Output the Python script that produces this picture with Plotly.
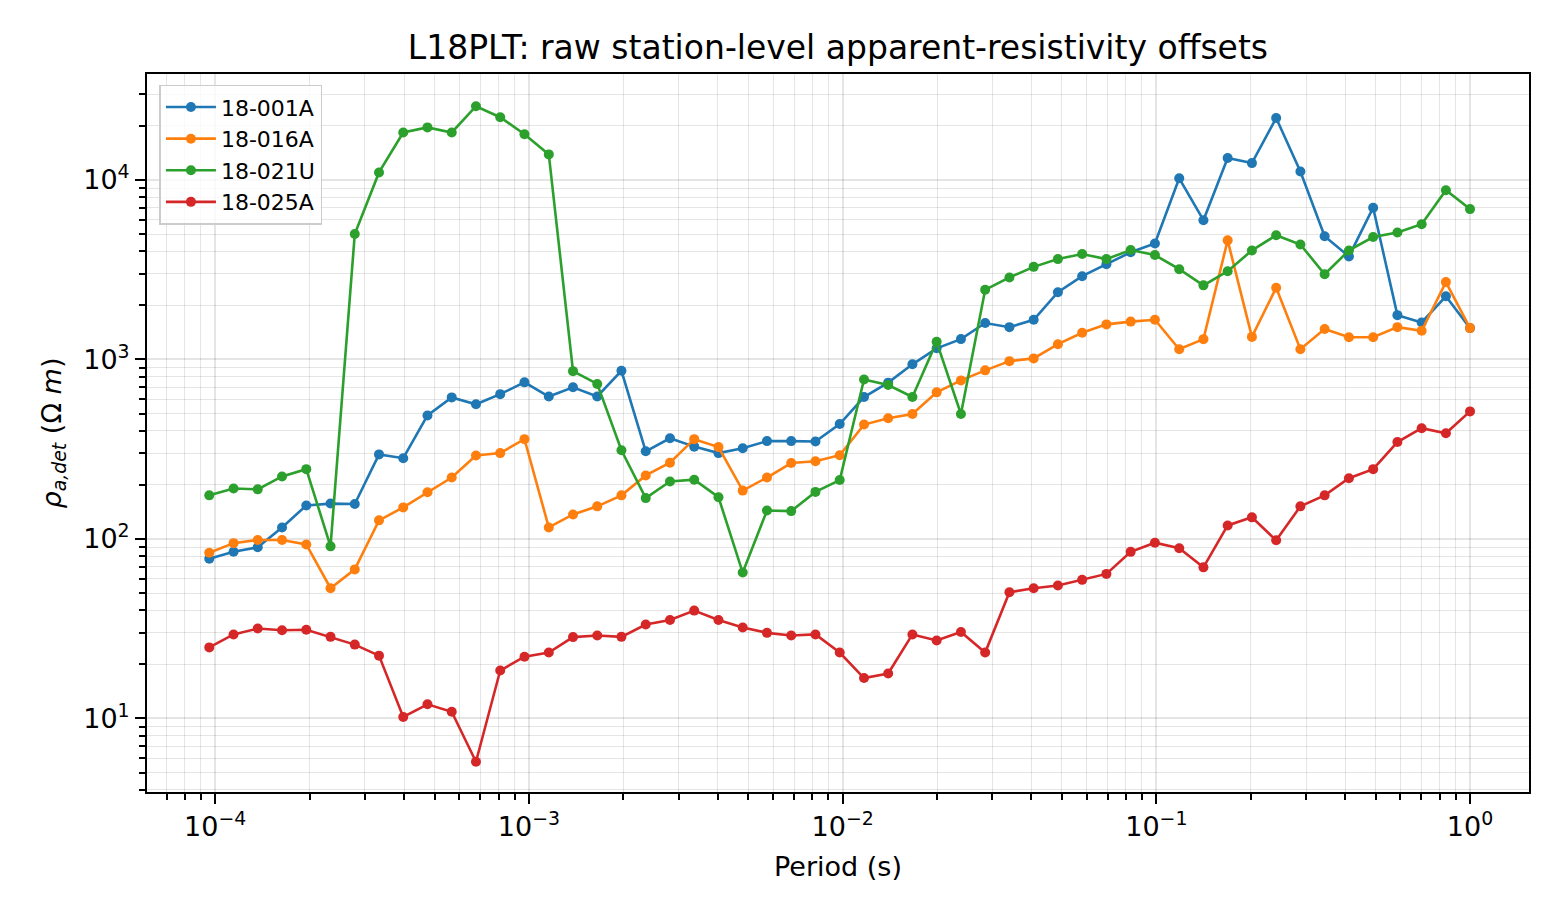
import plotly.graph_objects as go

# periods (s)
period = [9.572e-5, 1.144e-4, 1.366e-4, 1.633e-4, 1.951e-4, 2.331e-4, 2.785e-4,
          3.327e-4, 3.975e-4, 4.749e-4, 5.674e-4, 6.779e-4, 8.100e-4,
          9.678e-4, 1.157e-3, 1.382e-3, 1.651e-3, 1.972e-3, 2.357e-3, 2.816e-3,
          3.364e-3, 4.020e-3, 4.803e-3, 5.739e-3, 6.856e-3, 8.192e-3,
          9.788e-3, 1.170e-2, 1.397e-2, 1.669e-2, 1.994e-2, 2.383e-2, 2.847e-2,
          3.402e-2, 4.064e-2, 4.856e-2, 5.802e-2, 6.932e-2, 8.283e-2,
          9.897e-2, 0.1183, 0.1413, 0.1688, 0.2017, 0.2410, 0.2879, 0.3440,
          0.4111, 0.4911, 0.5868, 0.7011, 0.8377, 1.0]

# apparent resistivity per station (ohm m)
rho_001A = [77.6, 84.9, 89.9, 115.9, 153.8, 157.5, 156.6, 296, 282, 488, 615, 563, 641,
            746, 622, 700, 622, 865, 308, 364, 327, 301, 320, 351, 351, 349, 437,
            618, 743, 940, 1154, 1299, 1597, 1514, 1665, 2370, 2912, 3395, 3957, 4426,
            10220, 5970, 13250, 12420, 22130, 11160, 4863, 3752, 7010, 1766, 1608, 2249, 1496]
rho_016A = [83.8, 94.8, 98.8, 98.8, 93.2, 53.2, 67.7, 127, 150, 182, 220, 292, 301,
            360, 116, 137, 152, 175, 226, 266, 360, 325, 186, 220, 265, 271, 293,
            434, 471, 497, 656, 765, 870, 979, 1014, 1217, 1410, 1569, 1626, 1665,
            1141, 1298, 4610, 1336, 2512, 1141, 1479, 1330, 1330, 1514, 1445, 2698, 1496]
rho_021U = [175, 191, 189, 223, 245, 91, 5000, 11020, 18400, 19640, 18400, 25760, 22370,
            17990, 13890, 861, 731, 312, 169, 209, 214, 171, 65.0, 144, 143, 183, 213,
            774, 721, 618, 1254, 497, 2444, 2865, 3281, 3625, 3867, 3625, 4074, 3820,
            3184, 2588, 3105, 4052, 4922, 4373, 2983, 4052, 4808, 5098, 5670, 8770, 6885]
rho_025A = [24.9, 29.4, 31.7, 31.0, 31.2, 28.5, 25.8, 22.4, 10.2, 12.0, 10.9, 5.74, 18.5,
            22.1, 23.3, 28.4, 29.0, 28.5, 33.4, 35.4, 39.9, 35.4, 32.1, 30.0, 29.0, 29.4, 23.3,
            16.8, 17.8, 29.4, 27.2, 30.3, 23.3, 50.5, 53.2, 55.1, 59.2, 63.9, 84.8, 95.4,
            88.9, 69.5, 119, 132, 98.3, 152, 175, 218, 245, 347, 414, 388, 514]

stations = ["18-001A", "18-016A", "18-021U", "18-025A"]
series = [rho_001A, rho_016A, rho_021U, rho_025A]
colors = ["#1f77b4", "#ff7f0e", "#2ca02c", "#d62728"]

x_major = [1e-4, 1e-3, 1e-2, 1e-1, 1]
x_labels = ["10<sup>\u22124</sup>", "10<sup>\u22123</sup>", "10<sup>\u22122</sup>",
            "10<sup>\u22121</sup>", "10<sup>0</sup>"]
y_major = [10, 100, 1000, 10000]
y_labels = ["10<sup>1</sup>", "10<sup>2</sup>", "10<sup>3</sup>", "10<sup>4</sup>"]

x_minor = [m * 10.0 ** e for e in range(-5, 0) for m in range(2, 10)]
y_minor = [m * 10.0 ** e for e in range(0, 5) for m in range(2, 10)]

fig = go.Figure()
for name, vals, col in zip(stations, series, colors):
    fig.add_trace(go.Scatter(
        x=period, y=vals, name=name, mode="lines+markers",
        line=dict(color=col, width=2.6),
        marker=dict(color=col, size=10)))

grid_col = "rgba(0,0,0,0.10)"
axis_font = dict(family="DejaVu Sans", size=27, color="black")

fig.update_xaxes(
    type="log", range=[-4.2175, 0.188],
    tickmode="array", tickvals=x_major, ticktext=x_labels,
    ticks="outside", ticklen=10, tickwidth=2, tickcolor="black",
    showline=True, linecolor="black", linewidth=2, mirror=True,
    showgrid=True, gridcolor=grid_col, gridwidth=1.6,
    tickfont=axis_font,
    minor=dict(tickmode="array", tickvals=x_minor, ticks="outside", ticklen=6,
               tickwidth=1.6, tickcolor="black", showgrid=True,
               gridcolor=grid_col, gridwidth=1.4),
    title=dict(text="Period (s)", font=axis_font, standoff=16),
    zeroline=False)

fig.update_yaxes(
    type="log", range=[0.5905, 4.5905],
    tickmode="array", tickvals=y_major, ticktext=y_labels,
    ticks="outside", ticklen=10, tickwidth=2, tickcolor="black",
    showline=True, linecolor="black", linewidth=2, mirror=True,
    showgrid=True, gridcolor=grid_col, gridwidth=1.6,
    tickfont=axis_font,
    minor=dict(tickmode="array", tickvals=y_minor, ticks="outside", ticklen=6,
               tickwidth=1.6, tickcolor="black", showgrid=True,
               gridcolor=grid_col, gridwidth=1.4),
    title=dict(text="<i>\u03c1</i><sub><i>a,det</i></sub> (\u03a9 <i>m</i>)",
               font=axis_font, standoff=14),
    zeroline=False)

# page body adds an 8 px offset, so margins are shifted to land the axes
# where the reference has them
fig.update_layout(
    width=1560, height=919,
    margin=dict(l=139, r=39, t=66, b=135),
    paper_bgcolor="white", plot_bgcolor="white",
    font=dict(family="DejaVu Sans", color="black"),
    title=dict(text="L18PLT: raw station-level apparent-resistivity offsets",
               x=0.532, xanchor="center", y=0.9575, yanchor="middle",
               font=dict(family="DejaVu Sans", size=33, color="black")),
    legend=dict(x=0.009, y=0.985, xanchor="left", yanchor="top",
                bgcolor="rgba(255,255,255,0.8)", bordercolor="#cccccc",
                borderwidth=1.5, font=dict(family="DejaVu Sans", size=22),
                itemwidth=50, tracegroupgap=0),
    showlegend=True)

fig.write_html("out.html")
